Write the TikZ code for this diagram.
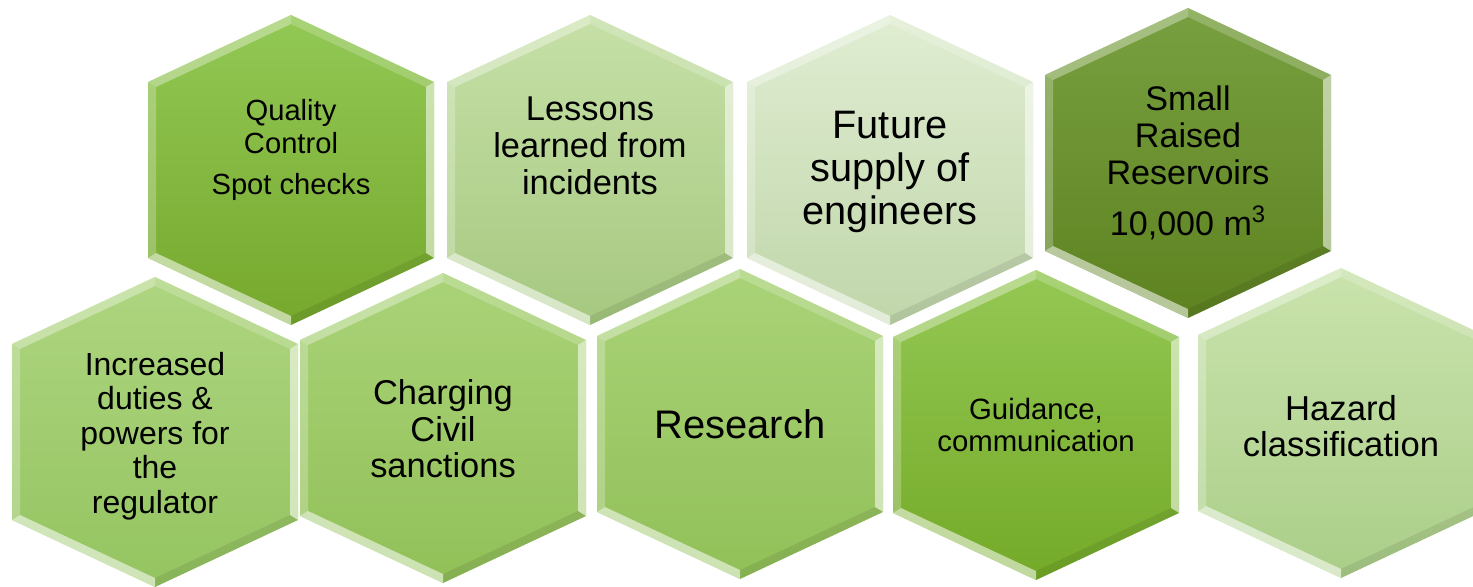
\documentclass[tikz,border=0pt]{standalone}
\usepackage{fontspec}
\setmainfont{Liberation Sans}
\usetikzlibrary{positioning}
\definecolor{qualTop}{RGB}{146,200,85}
\definecolor{qualBot}{RGB}{118,168,44}
\definecolor{lessTop}{RGB}{198,224,167}
\definecolor{lessBot}{RGB}{166,200,128}
\definecolor{futTop}{RGB}{224,237,210}
\definecolor{futBot}{RGB}{192,214,170}
\definecolor{resvTop}{RGB}{120,160,64}
\definecolor{resvBot}{RGB}{94,130,32}
\definecolor{incTop}{RGB}{174,213,128}
\definecolor{incBot}{RGB}{148,196,96}
\definecolor{resTop}{RGB}{170,211,120}
\definecolor{resBot}{RGB}{145,192,88}
\definecolor{guidTop}{RGB}{148,200,84}
\definecolor{guidBot}{RGB}{116,170,40}
\definecolor{hazTop}{RGB}{202,227,173}
\definecolor{hazBot}{RGB}{170,206,136}
\tikzset{
	every text node part/.style= {
		align=center
	},
	celltext/.style= {
		text=black,
		inner sep=0pt
	},
	fs/.style 2 args= {
		font=\fontsize{#1}{#2}\selectfont
	},
	bevel/.style= {
		white,
		opacity=#1
	}
}
% one honeycomb cell: centre x, centre y, top colour, bottom colour
\newcommand{\honeycell}[4]{%
	\begin{scope}[shift={(#1,#2)}]
		\shade[top color=#3, bottom color=#4] (0,155) -- (143,88) -- (143,-88) -- (0,-155) -- (-143,-88) -- (-143,88) -- cycle;
		\fill[bevel=.35] (-143,88) -- (0,155) -- (0,146) -- (-135,83) -- cycle;
		\fill[bevel=.2] (0,155) -- (143,88) -- (135,83) -- (0,146) -- cycle;
		\fill[bevel=.55] (143,88) -- (143,-88) -- (135,-83) -- (135,83) -- cycle;
		\fill[black, opacity=.08] (143,-88) -- (0,-155) -- (0,-146) -- (135,-83) -- cycle;
		\fill[bevel=.55] (0,-155) -- (-143,-88) -- (-135,-83) -- (0,-146) -- cycle;
		\fill[bevel=.25] (-143,-88) -- (-143,88) -- (-135,83) -- (-135,-83) -- cycle;
	\end{scope}%
}

\begin{document}
\begin{tikzpicture}[x=0.02cm, y=0.02cm]
	
	\useasboundingbox (0,0) rectangle (1473,586);
	\clip (0,0) rectangle (1473,586);
	
	% upper row
	\foreach \cx/\cy/\ctop/\cbot in {291/416/qualTop/qualBot, 590/416/lessTop/lessBot, 890/416/futTop/futBot, 1188/423/resvTop/resvBot}
		\honeycell{\cx}{\cy}{\ctop}{\cbot};
	
	% lower row
	\foreach \cx/\cy/\ctop/\cbot in {155/154/incTop/incBot, 443/158/resTop/resBot, 740/162/resTop/resBot, 1036/161/guidTop/guidBot, 1341/163/hazTop/hazBot}
		\honeycell{\cx}{\cy}{\ctop}{\cbot};
	
	\node(quality)[celltext, fs={16.6}{18.7}] at (291,436) {Quality\\Control\\[5pt]Spot checks};
	\node(lessons)[celltext, fs={19.6}{21}] at (590,440) {Lessons\\learned from\\incidents};
	\node(future)[celltext, fs={22.6}{24.4}] at (890,414) {Future\\supply of\\engineers};
	\node(reservoirs)[celltext, fs={19.4}{21}] at (1188,423) {Small\\Raised\\Reservoirs\\[8pt]10,000 m\textsuperscript{3}};
	
	\node(regulator)[celltext, fs={18.2}{19.6}] at (155,150) {Increased\\duties \&\\powers for\\the\\regulator};
	\node(sanctions)[celltext, fs={19.6}{20.7}] at (443,157) {Charging\\Civil\\sanctions};
	\node(research)[celltext, fs={22.7}{26}] at (740,162) {Research};
	\node(guidance)[celltext, fs={16.7}{18.2}] at (1036,161) {Guidance,\\communication};
	\node(hazard)[celltext, fs={19.7}{20.4}] at (1341,160) {Hazard\\classification};
	
\end{tikzpicture}
\end{document}
